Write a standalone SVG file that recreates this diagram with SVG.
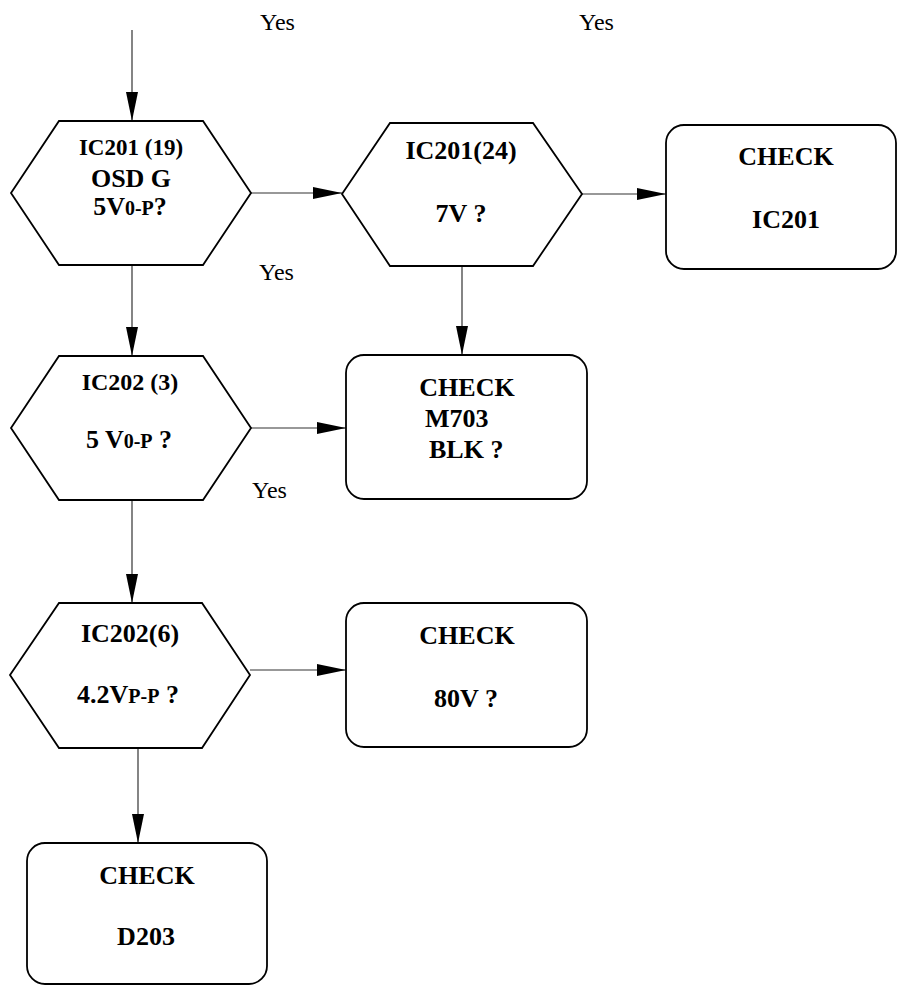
<svg xmlns="http://www.w3.org/2000/svg" width="897" height="986" viewBox="0 0 897 986">
<style>
.shape{fill:#fff;stroke:#000;stroke-width:1.8;stroke-linejoin:miter}
.conn{fill:none;stroke:#333;stroke-width:1.2}
text{font-family:'Liberation Serif','DejaVu Serif',serif}
.t{font-weight:bold;font-size:26px;fill:#000;text-anchor:middle}
.ts{text-anchor:start}
.sub{font-size:20px}
.lbl{font-size:24px;fill:#000}
</style>
<defs>
<marker id="ah" markerUnits="userSpaceOnUse" markerWidth="30" markerHeight="13" refX="29" refY="6" orient="auto">
<path d="M0,0 L29,6 L0,12 z" fill="#000"/>
</marker>
</defs>
<g id="connectors">
<line class="conn" x1="132" y1="30" x2="132" y2="121" marker-end="url(#ah)"/>
<line class="conn" x1="251" y1="193" x2="342" y2="193" marker-end="url(#ah)"/>
<line class="conn" x1="582" y1="194" x2="666" y2="194" marker-end="url(#ah)"/>
<line class="conn" x1="132" y1="265" x2="132" y2="356" marker-end="url(#ah)"/>
<line class="conn" x1="462" y1="266" x2="462" y2="355" marker-end="url(#ah)"/>
<line class="conn" x1="251" y1="428" x2="346" y2="428" marker-end="url(#ah)"/>
<line class="conn" x1="132" y1="500" x2="132" y2="603" marker-end="url(#ah)"/>
<line class="conn" x1="250" y1="670" x2="346" y2="670" marker-end="url(#ah)"/>
<line class="conn" x1="138" y1="748" x2="138" y2="843" marker-end="url(#ah)"/>
</g>
<g id="labels">
<text class="lbl" x="260" y="30" font-family="Liberation Serif, serif">Yes</text>
<text class="lbl" x="579" y="30" font-family="Liberation Serif, serif">Yes</text>
<text class="lbl" x="259" y="280" font-family="Liberation Serif, serif">Yes</text>
<text class="lbl" x="252" y="498" font-family="Liberation Serif, serif">Yes</text>
</g>
<g id="hex1">
<polygon class="shape" points="11,193 59,121 203,121 251,193 203,265 59,265"/>
<text class="t" x="131" y="155" style="font-size:23px">IC201 (19)</text>
<text class="t" x="131" y="187">OSD G</text>
<text class="t" x="130" y="215">5V<tspan class="sub">0-P</tspan>?</text>
</g>
<g id="hex2">
<polygon class="shape" points="342,194 390,123 533,123 582,194 533,266 390,266"/>
<text class="t" x="461" y="159">IC201(24)</text>
<text class="t" x="461" y="222">7V ?</text>
</g>
<g id="rect1">
<rect class="shape" x="666" y="125" width="230" height="144" rx="18"/>
<text class="t" x="786" y="165">CHECK</text>
<text class="t" x="786" y="228">IC201</text>
</g>
<g id="hex3">
<polygon class="shape" points="11,428 59,356 203,356 251,428 203,500 59,500"/>
<text class="t" x="130" y="390" style="font-size:24px">IC202 (3)</text>
<text class="t" x="129" y="448">5 V<tspan class="sub">0-P</tspan> ?</text>
</g>
<g id="rect2">
<rect class="shape" x="346" y="355" width="241" height="144" rx="18"/>
<text class="t" x="467" y="396">CHECK</text>
<text class="t ts" x="425" y="427">M703</text>
<text class="t ts" x="429" y="458">BLK ?</text>
</g>
<g id="hex4">
<polygon class="shape" points="10,675 59,603 202,603 250,675 202,748 59,748"/>
<text class="t" x="130" y="642">IC202(6)</text>
<text class="t" x="128" y="703">4.2V<tspan class="sub">P-P</tspan> ?</text>
</g>
<g id="rect3">
<rect class="shape" x="346" y="603" width="241" height="144" rx="18"/>
<text class="t" x="467" y="644">CHECK</text>
<text class="t" x="466" y="707">80V ?</text>
</g>
<g id="rect4">
<rect class="shape" x="27" y="843" width="240" height="141" rx="18"/>
<text class="t" x="147" y="884">CHECK</text>
<text class="t" x="146" y="945">D203</text>
</g>
</svg>
